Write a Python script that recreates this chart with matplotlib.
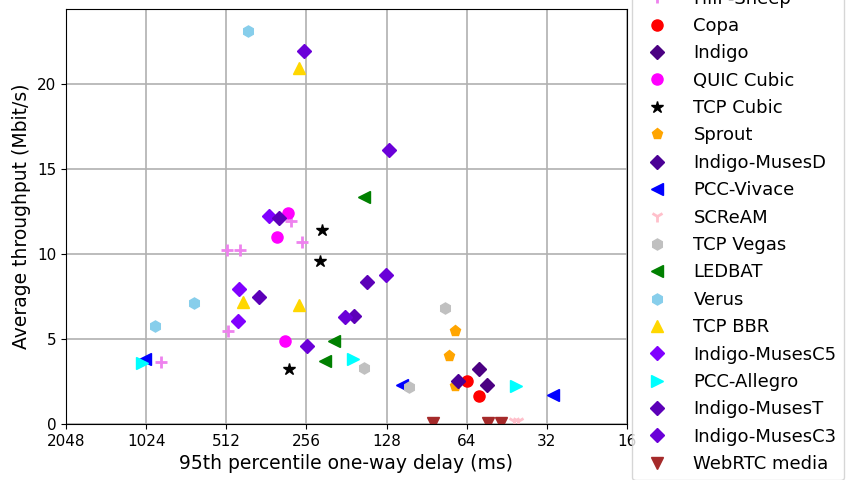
import numpy as np
import matplotlib.pyplot as plt
from matplotlib.ticker import FixedLocator, NullLocator

# 95th percentile delay (ms) / throughput (Mbit/s) per scheme
fillp_sheep_x = [509, 456, 292, 266, 505, 899]
fillp_sheep_y = [10.24, 10.24, 11.94, 10.69, 5.45, 3.65]
copa_x = [63.8, 57.5]
copa_y = [2.53, 1.65]
indigo_x = [57.5, 53.5]
indigo_y = [3.24, 2.29]
quic_x = [300, 329, 309]
quic_y = [12.43, 10.98, 4.86]
cubic_x = [223, 228, 297]
cubic_y = [11.39, 9.57, 3.24]
sprout_x = [71, 74.3, 71]
sprout_y = [5.49, 3.98, 2.24]
musesd_x = [69.2]
musesd_y = [2.51]
vivace_x = [112, 30.3, 1033]
vivace_y = [2.28, 1.72, 3.84]
scream_x = [42.5, 41]
scream_y = [0.15, 0.15]
vegas_x = [77, 105, 156]
vegas_y = [6.84, 2.16, 3.29]
ledbat_x = [156, 202, 217]
ledbat_y = [13.35, 4.88, 3.71]
verus_x = [424, 677, 947]
verus_y = [23.12, 7.12, 5.78]
bbr_x = [272, 442, 272]
bbr_y = [20.94, 7.16, 6.98]
musesc5_x = [353, 457, 463]
musesc5_y = [12.25, 7.96, 6.06]
allegro_x = [41.6, 171, 1060]
allegro_y = [2.25, 3.81, 3.61]
musest_x = [325, 385, 170, 151]
musest_y = [12.1, 7.45, 6.35, 8.34]
musesc3_x = [261, 125, 254, 183, 129]
musesc3_y = [21.94, 16.12, 4.59, 6.31, 8.76]
webrtc_x = [85.7, 53.2, 47.7]
webrtc_y = [0.06, 0.06, 0.06]

ticks = [2048, 1024, 512, 256, 128, 64, 32, 16]

fig = plt.figure(figsize=(8.5, 4.8), dpi=100)
ax = fig.add_axes([0.0776, 0.1167, 0.66, 0.8646])

ax.plot(fillp_sheep_x, fillp_sheep_y, '+', color='violet', ms=9, mew=2, label='FillP-Sheep')
ax.plot(copa_x, copa_y, 'o', color='red', ms=8, label='Copa')
ax.plot(indigo_x, indigo_y, 'D', color='indigo', ms=7.5, label='Indigo')
ax.plot(quic_x, quic_y, 'o', color='magenta', ms=8, label='QUIC Cubic')
ax.plot(cubic_x, cubic_y, '*', color='black', ms=9, label='TCP Cubic')
ax.plot(sprout_x, sprout_y, 'p', color='orange', ms=8, label='Sprout')
ax.plot(musesd_x, musesd_y, 'D', color='#4b0096', ms=7.5, label='Indigo-MusesD')
ax.plot(vivace_x, vivace_y, '<', color='blue', ms=8, label='PCC-Vivace')
ax.plot(scream_x, scream_y, '1', color='pink', ms=9, mew=2, label='SCReAM')
ax.plot(vegas_x, vegas_y, 'h', color='silver', ms=8, label='TCP Vegas')
ax.plot(ledbat_x, ledbat_y, '<', color='green', ms=8, label='LEDBAT')
ax.plot(verus_x, verus_y, 'h', color='skyblue', ms=8, label='Verus')
ax.plot(bbr_x, bbr_y, '^', color='gold', ms=8, label='TCP BBR')
ax.plot(musesc5_x, musesc5_y, 'D', color='#8000ff', ms=7.5, label='Indigo-MusesC5')
ax.plot(allegro_x, allegro_y, '>', color='cyan', ms=8, label='PCC-Allegro')
ax.plot(musest_x, musest_y, 'D', color='#5c00b8', ms=7.5, label='Indigo-MusesT')
ax.plot(musesc3_x, musesc3_y, 'D', color='#6a00d8', ms=7.5, label='Indigo-MusesC3')
ax.plot(webrtc_x, webrtc_y, 'v', color='brown', ms=8, label='WebRTC media')

ax.set_xscale('log', base=2)
ax.set_xlim(2048, 16)
ax.set_ylim(0, 24.4)
ax.xaxis.set_major_locator(FixedLocator(ticks))
ax.xaxis.set_minor_locator(NullLocator())
ax.set_xticklabels([str(t) for t in ticks])
ax.tick_params(labelsize=11)
ax.grid(True, color='#b0b0b0', lw=1.2)
ax.set_xlabel('95th percentile one-way delay (ms)', fontsize=13.5)
ax.set_ylabel('Average throughput (Mbit/s)', fontsize=13.5)

# legend sits outside the axes and runs past the top and bottom of the figure
fig.legend(loc='center left', bbox_to_anchor=(0.733, 0.518), fontsize=13,
           numpoints=1, labelspacing=0.52, handletextpad=1.0)

fig.savefig('out.png', dpi=100)
